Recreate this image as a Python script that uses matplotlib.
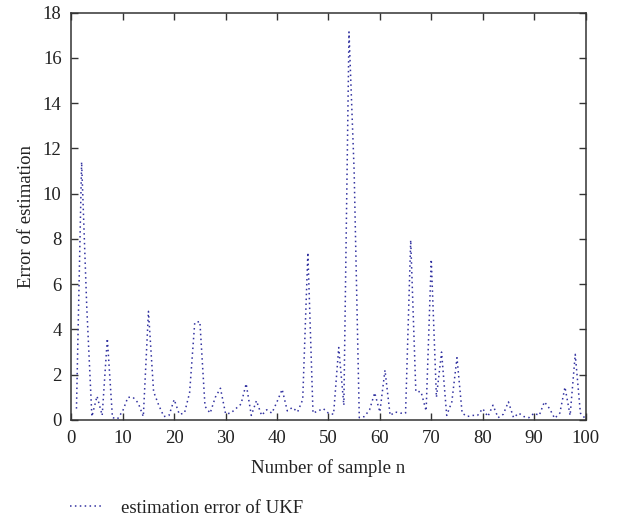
import numpy as np
import matplotlib
matplotlib.use("Agg")
import matplotlib.pyplot as plt

plt.rcParams["font.family"] = ["Liberation Serif", "DejaVu Serif"]

# sample index and UKF estimation error
samples = list(range(1, 101))
ukf_error = [
    0.5, 11.4, 5.0, 0.15, 1.05, 0.2, 3.6, 0.1, 0.05, 0.4,
    1.0, 1.0, 0.75, 0.15, 4.8, 1.25, 0.65, 0.15, 0.2, 0.9,
    0.25, 0.3, 1.2, 4.3, 4.35, 0.6, 0.3, 1.0, 1.4, 0.27,
    0.3, 0.5, 0.7, 1.6, 0.2, 0.85, 0.2, 0.45, 0.3, 0.8,
    1.35, 0.4, 0.55, 0.35, 0.9, 7.4, 0.3, 0.4, 0.5, 0.3,
    0.25, 3.2, 0.65, 17.15, 11.0, 0.1, 0.15, 0.45, 1.2, 0.35,
    2.2, 0.2, 0.35, 0.3, 0.3, 7.95, 1.25, 1.25, 0.4, 7.1,
    1.0, 3.0, 0.2, 0.8, 2.75, 0.3, 0.15, 0.2, 0.2, 0.5,
    0.15, 0.65, 0.1, 0.25, 0.8, 0.1, 0.3, 0.15, 0.1, 0.3,
    0.2, 0.8, 0.5, 0.07, 0.3, 1.45, 0.2, 2.9, 0.3, 0.05,
]

fs = 13.5
fig = plt.figure(figsize=(6.17, 5.21), dpi=100)
ax = fig.add_axes([0.1156, 0.194, 0.8334, 0.7816])

line, = ax.plot(samples, ukf_error, linestyle=(0, (1, 2.2)), color="#3232a0",
                lw=1.1, label="estimation error of UKF")

ax.set_xlim(0, 100)
ax.set_ylim(0, 18)
ax.set_xticks(np.arange(0, 101, 10))
ax.set_yticks(np.arange(0, 19, 2))
ax.tick_params(direction="in", top=True, right=True, length=5, width=1,
               labelsize=fs, colors="#333333", labelcolor="#222222")
ax.tick_params(axis="x", pad=7)
ax.tick_params(axis="y", pad=7)
for sp in ax.spines.values():
    sp.set_color("#333333")
    sp.set_linewidth(1.1)

ax.set_xlabel("Number of sample n", fontsize=fs, color="#222222", labelpad=9)
ax.set_ylabel("Error of estimation", fontsize=fs, color="#222222", labelpad=6)

fig.legend(handles=[line], loc="center left", bbox_to_anchor=(0.086, 0.025),
           frameon=False, fontsize=fs, handlelength=1.8, handletextpad=0.9,
           labelcolor="#222222")

fig.savefig("out.png", dpi=100)
